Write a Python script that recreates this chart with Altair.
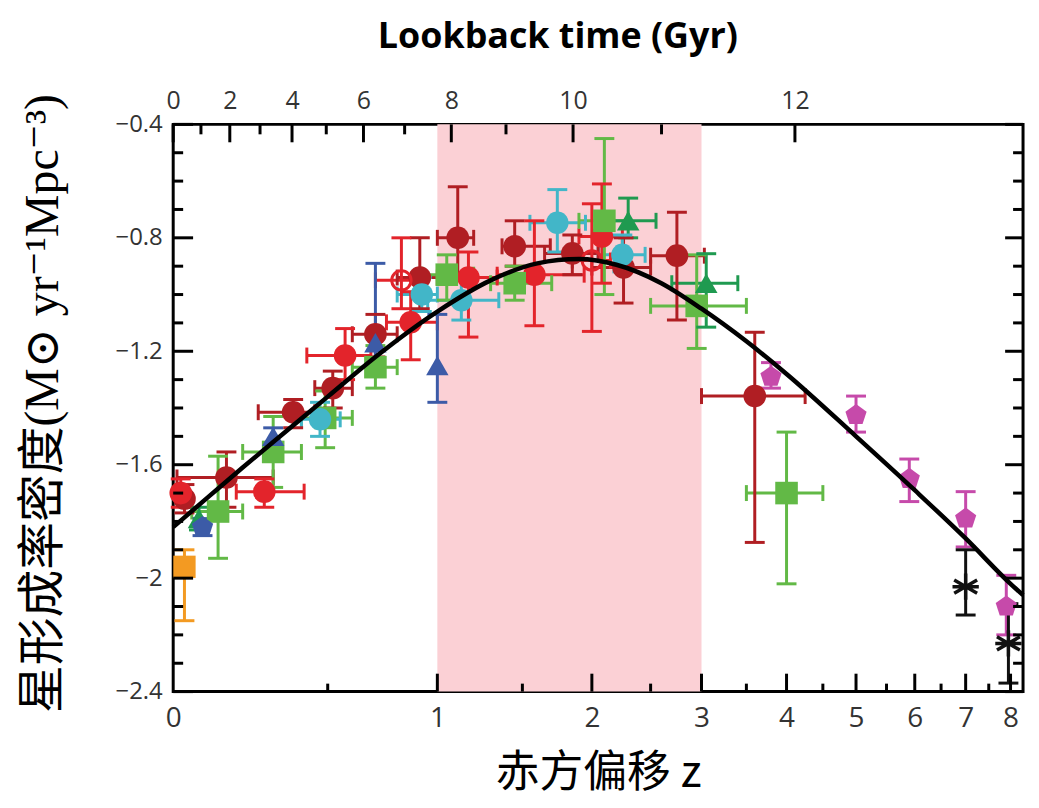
import numpy as np
import pandas as pd
import altair as alt

W, H = 854, 570

# ---------------- data ----------------
# dark red circles
DR_Z = [0.03, 0.15, 0.37, 0.52, 0.70, 0.91, 1.11, 1.45, 1.85, 2.26, 2.75, 3.60]
DR_Y = [-1.72, -1.645, -1.415, -1.33, -1.14, -0.94, -0.80, -0.83, -0.855, -0.905, -0.863, -1.358]
DR_ZLO = [None, 0.01, 0.25, 0.45, 0.60, 0.80, 1.00, 1.37, 1.65, 2.00, 2.50, 3.00]
DR_ZHI = [None, 0.30, 0.45, 0.60, 0.80, 1.05, 1.20, 1.69, 2.05, 2.50, 3.03, 4.25]
DR_YLO = [-1.77, -1.75, -1.47, -1.40, -1.22, -1.05, -0.95, -0.90, -0.93, -1.03, -1.09, -1.874]
DR_YHI = [-1.67, -1.555, -1.37, -1.27, -1.07, -0.80, -0.62, -0.74, -0.79, -0.80, -0.71, -1.133]

# red circles
RD_Z = [0.02, 0.27, 0.57, 0.865, 1.17, 1.58, 2.08]
RD_Y = [-1.70, -1.695, -1.215, -1.098, -0.94, -0.93, -0.795]
RD_ZLO = [None, 0.18, 0.42, 0.75, 1.00, 1.34, 1.90]
RD_ZHI = [None, 0.41, 0.68, 1.00, 1.34, 1.94, 2.25]
RD_YLO = [-1.75, -1.75, -1.30, -1.23, -1.15, -1.11, -0.96]
RD_YHI = [-1.65, -1.65, -1.12, -0.99, -0.85, -0.74, -0.61]

# red open circles
RO_Z = [0.82, 2.00]
RO_Y = [-0.95, -0.88]
RO_ZLO = [0.70, 1.85]
RO_ZHI = [0.92, 2.15]
RO_YLO = [-1.05, -1.13]
RO_YHI = [-0.80, -0.68]

# light green squares
GR_Z = [0.125, 0.30, 0.49, 0.70, 1.05, 1.45, 2.10, 2.95, 4.00]
GR_Y = [-1.765, -1.555, -1.435, -1.256, -0.93, -0.96, -0.74, -1.04, -1.70]
GR_ZLO = [0.05, 0.20, 0.40, 0.60, 0.92, 1.30, 1.90, 2.50, 3.50]
GR_ZHI = [0.20, 0.40, 0.60, 0.80, 1.20, 1.70, 2.30, 3.50, 4.50]
GR_YLO = [-1.93, -1.68, -1.54, -1.33, -1.02, -1.02, -1.00, -1.19, -2.02]
GR_YHI = [-1.57, -1.43, -1.34, -1.18, -0.86, -0.90, -0.45, -0.86, -1.485]

# dark green triangles
DG_Z = [0.07, 2.30, 3.05]
DG_Y = [-1.79, -0.74, -0.96]
DG_ZLO = [None, 2.10, 2.70]
DG_ZHI = [None, 2.55, 3.40]
DG_YLO = [-1.83, -0.80, -1.115]
DG_YHI = [-1.75, -0.66, -0.856]

# teal circles
TL_Z = [0.47, 0.92, 1.13, 1.74, 2.25]
TL_Y = [-1.44, -1.00, -1.02, -0.747, -0.86]
TL_ZLO = [0.40, 0.80, 0.95, 1.55, 2.05]
TL_ZHI = [0.55, 1.00, 1.35, 1.95, 2.45]
TL_YLO = [-1.50, -1.06, -1.09, -0.85, -0.92]
TL_YHI = [-1.38, -0.94, -0.95, -0.63, -0.79]

# blue triangles
BL_Z = [0.30, 0.70, 1.00]
BL_Y = [-1.50, -1.17, -1.25]
BL_YLO = [-1.53, -1.25, -1.38]
BL_YHI = [-1.47, -0.89, -1.07]

# blue pentagon
BP_Z = [0.08]
BP_Y = [-1.82]
BP_YLO = [-1.85]
BP_YHI = [-1.79]

# orange square
OR_Z = [0.03]
OR_Y = [-1.96]
OR_ZLO = [0.01]
OR_ZHI = [0.05]
OR_YLO = [-2.15]
OR_YHI = [-1.90]

# magenta pentagons
MG_Z = [3.8, 5.0, 5.9, 7.0, 7.9]
MG_Y = [-1.29, -1.425, -1.65, -1.79, -2.10]
MG_YLO = [-1.33, -1.485, -1.73, -1.89, -2.20]
MG_YHI = [-1.24, -1.358, -1.58, -1.695, -1.99]

# black stars
ST_Z = [7.0, 7.95]
ST_Y = [-2.03, -2.23]
ST_YLO = [-2.13, -2.37]
ST_YHI = [-1.90, -2.09]

# fitted curve
CV_Z = [0, 0.1, 0.2, 0.3, 0.5, 0.7, 1.0, 1.3, 1.6, 1.9, 2.2, 2.6, 3.0, 3.5, 4.0, 5.0, 6.0, 7.0, 8.0, 8.3]
CV_Y = [-1.82, -1.71, -1.61, -1.52, -1.36, -1.22, -1.06, -0.95, -0.89, -0.875, -0.895, -0.96,
        -1.05, -1.165, -1.28, -1.50, -1.69, -1.86, -2.02, -2.06]

# shaded redshift band
BAND_Z = [1.0, 3.0]

# axis ticks
Z_LABELS = [0, 1, 2, 3, 4, 5, 6, 7, 8]
Z_MAJOR = [1, 2, 3, 4, 5, 6, 7, 8]
Z_MINOR = [0.5, 1.5, 2.5, 3.5, 4.5, 5.5, 6.5, 7.5]
Y_MAJOR = [-0.4, -0.8, -1.2, -1.6, -2.0, -2.4]
Y_MINOR = [-0.5, -0.6, -0.7, -0.9, -1.0, -1.1, -1.3, -1.4, -1.5, -1.7, -1.8, -1.9, -2.1, -2.2, -2.3]
LB_MAJOR = [0, 2, 4, 6, 8, 10, 12]
LB_MINOR = [1, 3, 5, 7, 9, 11]

# ---------------- build tables ----------------
def nones(n):
    return [None] * n

GROUPS = [
    ("darkred", DR_Z, DR_Y, DR_ZLO, DR_ZHI, DR_YLO, DR_YHI),
    ("red", RD_Z, RD_Y, RD_ZLO, RD_ZHI, RD_YLO, RD_YHI),
    ("redopen", RO_Z, RO_Y, RO_ZLO, RO_ZHI, RO_YLO, RO_YHI),
    ("green", GR_Z, GR_Y, GR_ZLO, GR_ZHI, GR_YLO, GR_YHI),
    ("darkgreen", DG_Z, DG_Y, DG_ZLO, DG_ZHI, DG_YLO, DG_YHI),
    ("teal", TL_Z, TL_Y, TL_ZLO, TL_ZHI, TL_YLO, TL_YHI),
    ("blue", BL_Z, BL_Y, nones(len(BL_Z)), nones(len(BL_Z)), BL_YLO, BL_YHI),
    ("bluepent", BP_Z, BP_Y, nones(1), nones(1), BP_YLO, BP_YHI),
    ("orange", OR_Z, OR_Y, OR_ZLO, OR_ZHI, OR_YLO, OR_YHI),
    ("magenta", MG_Z, MG_Y, nones(len(MG_Z)), nones(len(MG_Z)), MG_YLO, MG_YHI),
    ("star", ST_Z, ST_Y, nones(len(ST_Z)), nones(len(ST_Z)), ST_YLO, ST_YHI),
]
rows = []
for name, z, y, zlo, zhi, ylo, yhi in GROUPS:
    for i in range(len(z)):
        rows.append(dict(grp=name, z=z[i], y=y[i],
                         zlo=np.nan if zlo[i] is None else zlo[i],
                         zhi=np.nan if zhi[i] is None else zhi[i],
                         ylo=ylo[i], yhi=yhi[i]))
df = pd.DataFrame(rows)
df["xp"] = 1 + df["z"]
df["xlo"] = 1 + df["zlo"]
df["xhi"] = 1 + df["zhi"]

COLORS = {
    "darkred": "#b01e23", "red": "#e3242b", "redopen": "#e3242b", "green": "#62b946",
    "darkgreen": "#1f9a50", "teal": "#42b6c8", "blue": "#3c5ba7", "bluepent": "#3c5ba7",
    "orange": "#f39a22", "magenta": "#c64aaa", "star": "#111111",
}
PENT = "M0,-1L0.951,-0.309L0.588,0.809L-0.588,0.809L-0.951,-0.309Z"
STAR = "M0,-1L0,1M-0.87,-0.5L0.87,0.5M-0.87,0.5L0.87,-0.5M-1,0L1,0"
FILLED = ["darkred", "red", "green", "darkgreen", "teal", "blue", "bluepent", "orange", "magenta"]
SHAPES = ["circle", "circle", "square", "triangle-up", "circle", "triangle-up", PENT, "square", PENT]
SIZES = [520, 500, 440, 500, 440, 480, 540, 440, 580]

# lookback time -> redshift (flat LCDM, H0=70, Om=0.3) for the top axis
zz = np.linspace(0, 15, 30001)
integ = 1.0 / ((1 + zz) * np.sqrt(0.3 * (1 + zz) ** 3 + 0.7))
tl = 977.8 / 70.0 * np.concatenate([[0.0], np.cumsum((integ[1:] + integ[:-1]) / 2 * np.diff(zz))])
def z_of_t(t):
    return float(np.interp(t, tl, zz))
TOP_MAJOR_POS = [1 + z_of_t(t) for t in LB_MAJOR]
TOP_MINOR_POS = [1 + z_of_t(t) for t in LB_MINOR]

expr = ""
for i in range(len(TOP_MAJOR_POS) - 1):
    mid = (TOP_MAJOR_POS[i] + TOP_MAJOR_POS[i + 1]) / 2
    expr += f"datum.value < {mid:.6f} ? '{LB_MAJOR[i]}' : "
expr += f"'{LB_MAJOR[-1]}'"

# ---------------- scales / axes ----------------
LABEL_FONT = "Open Sans"
xscale = alt.Scale(type="log", domain=[1, 9.3], nice=False)
xaxis = alt.Axis(orient="bottom", values=[1 + v for v in Z_LABELS],
                 labelExpr="format(datum.value - 1, 'd')",
                 ticks=False, domain=False, grid=False, labelFlush=False, labelOverlap=False,
                 labelFont=LABEL_FONT, labelFontSize=28, labelPadding=13, labelColor="#333",
                 title="赤方偏移 z", titleFont="Noto Sans CJK SC, DejaVu Serif", titleFontSize=44,
                 titleFontWeight="normal", titleColor="black", titleY=82, titleBaseline="middle")
yscale = alt.Scale(domain=[-2.4, -0.4], nice=False, zero=False)
yaxis = alt.Axis(orient="left", values=Y_MAJOR, format="~g",
                 ticks=False, domain=False, grid=False, labelOverlap=False,
                 labelFont=LABEL_FONT, labelFontSize=24, labelPadding=11, labelColor="#333",
                 title="星形成率密度(M⊙ yr⁻¹Mpc⁻³)",
                 titleFont="Liberation Serif, DejaVu Serif, Noto Sans CJK SC",
                 titleFontSize=48, titleFontWeight="normal", titleColor="black",
                 titleX=-130, titleY=280, titleBaseline="middle")
top_scale = alt.Scale(type="log", domain=[1, 9.3], nice=False)
top_axis = alt.Axis(orient="top", values=TOP_MAJOR_POS, labelExpr=expr,
                    ticks=False, domain=False, grid=False, labelFlush=False, labelOverlap=False,
                    labelFont=LABEL_FONT, labelFontSize=25, labelPadding=11, labelColor="#333",
                    title="Lookback time (Gyr)", titleFont="Open Sans", titleFontSize=36,
                    titleFontWeight="bold", titleColor="black", titleX=386, titleY=-88,
                    titleBaseline="middle")

def X(f):
    return alt.X(f, type="quantitative", scale=xscale, axis=xaxis)

def Y(f):
    return alt.Y(f, type="quantitative", scale=yscale, axis=yaxis)

color = alt.Color("grp:N", scale=alt.Scale(domain=list(COLORS.keys()), range=list(COLORS.values())),
                  legend=None)

base = alt.Chart(df)
has_x = "isValid(datum.zlo)"

band = alt.Chart(pd.DataFrame({"lo": [1 + BAND_Z[0]], "hi": [1 + BAND_Z[1]]})).mark_rect(
    color="#fbd0d5").encode(x=X("lo"), x2="hi:Q", y=alt.value(0), y2=alt.value(H))

errx = base.transform_filter(has_x).mark_rule(strokeWidth=3).encode(
    x=X("xlo"), x2="xhi:Q", y=Y("y"), color=color)
capxlo = base.transform_filter(has_x).mark_tick(orient="vertical", size=16, thickness=3, opacity=1).encode(
    x=X("xlo"), y=Y("y"), color=color)
capxhi = base.transform_filter(has_x).mark_tick(orient="vertical", size=16, thickness=3, opacity=1).encode(
    x=X("xhi"), y=Y("y"), color=color)
erry = base.mark_rule(strokeWidth=3).encode(x=X("xp"), y=Y("ylo"), y2="yhi:Q", color=color)
capylo = base.mark_tick(orient="horizontal", size=20, thickness=3, opacity=1).encode(
    x=X("xp"), y=Y("ylo"), color=color)
capyhi = base.mark_tick(orient="horizontal", size=20, thickness=3, opacity=1).encode(
    x=X("xp"), y=Y("yhi"), color=color)

pts = base.transform_filter(alt.FieldOneOfPredicate(field="grp", oneOf=FILLED)).mark_point(
    filled=True, opacity=1).encode(
    x=X("xp"), y=Y("y"), color=color,
    shape=alt.Shape("grp:N", scale=alt.Scale(domain=FILLED, range=SHAPES), legend=None),
    size=alt.Size("grp:N", scale=alt.Scale(domain=FILLED, range=SIZES), legend=None))
opens = base.transform_filter(alt.datum.grp == "redopen").mark_point(
    filled=False, shape="circle", size=380, strokeWidth=3, color=COLORS["redopen"], opacity=1).encode(
    x=X("xp"), y=Y("y"))
stars = base.transform_filter(alt.datum.grp == "star").mark_point(
    filled=False, shape=STAR, size=700, strokeWidth=3.5, color="#111111", opacity=1).encode(
    x=X("xp"), y=Y("y"))

curve = alt.Chart(pd.DataFrame({"xp": [1 + v for v in CV_Z], "y": CV_Y})).mark_line(
    color="black", strokeWidth=4.5, interpolate="monotone").encode(x=X("xp"), y=Y("y"))

def rule(**kw):
    return dict(color="black", strokeWidth=3, **kw)

bmaj = alt.Chart(pd.DataFrame({"xp": [1 + v for v in Z_MAJOR]})).mark_rule(**rule()).encode(
    x=X("xp"), y=alt.value(H), y2=alt.value(H - 18))
bmin = alt.Chart(pd.DataFrame({"xp": [1 + v for v in Z_MINOR]})).mark_rule(**rule()).encode(
    x=X("xp"), y=alt.value(H), y2=alt.value(H - 8))
lmaj = alt.Chart(pd.DataFrame({"v": Y_MAJOR})).mark_rule(**rule()).encode(
    y=Y("v"), x=alt.value(0), x2=alt.value(20))
lmin = alt.Chart(pd.DataFrame({"v": Y_MINOR})).mark_rule(**rule()).encode(
    y=Y("v"), x=alt.value(0), x2=alt.value(10))
rmaj = alt.Chart(pd.DataFrame({"v": Y_MAJOR})).mark_rule(**rule()).encode(
    y=Y("v"), x=alt.value(W - 18), x2=alt.value(W))
rmin = alt.Chart(pd.DataFrame({"v": Y_MINOR})).mark_rule(**rule()).encode(
    y=Y("v"), x=alt.value(W - 10), x2=alt.value(W))

tmaj = alt.Chart(pd.DataFrame({"tp": TOP_MAJOR_POS})).mark_rule(**rule()).encode(
    x=alt.X("tp:Q", scale=top_scale, axis=top_axis), y=alt.value(0), y2=alt.value(18))
tmin = alt.Chart(pd.DataFrame({"tp": TOP_MINOR_POS})).mark_rule(**rule()).encode(
    x=alt.X("tp:Q", scale=top_scale, axis=top_axis), y=alt.value(0), y2=alt.value(10))

main = alt.layer(band, errx, capxlo, capxhi, erry, capylo, capyhi, pts, opens, stars, curve,
                 bmaj, bmin, lmaj, lmin, rmaj, rmin)
top = alt.layer(tmaj, tmin)

chart = alt.layer(main, top).resolve_scale(x="independent").properties(
    width=W, height=H,
    autosize=alt.AutoSizeParams(type="none"),
    padding={"left": 166, "top": 115, "right": 8, "bottom": 110},
).configure_view(stroke="black", strokeWidth=3)

chart.save("out.html", embed_options={"renderer": "svg", "actions": False})
